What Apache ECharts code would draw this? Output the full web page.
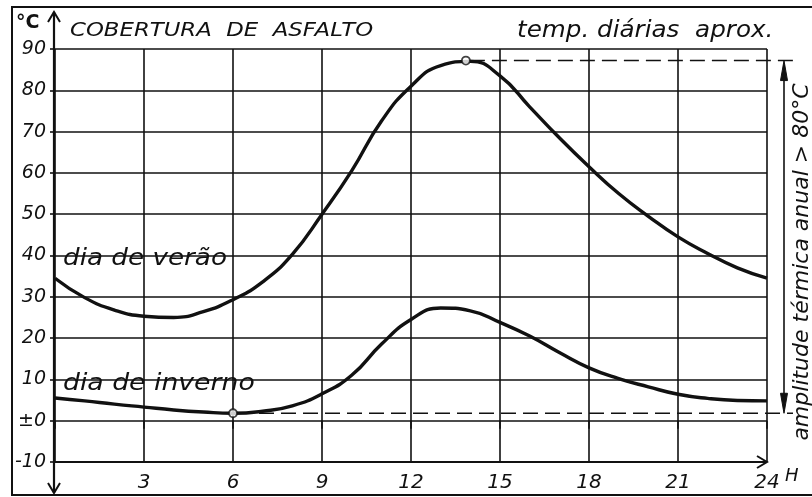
<!DOCTYPE html>
<html>
<head>
<meta charset="utf-8">
<script src="https://cdn.jsdelivr.net/npm/echarts@6/dist/echarts.min.js"></script>
<style>
  html, body { margin: 0; padding: 0; background: #fff; }
  #chart { width: 812px; height: 497px; }
</style>
</head>
<body>
<div id="chart"></div>
<script>
// Daily surface temperature of an asphalt roof covering (approximate values)
const hours = [0, 1, 2, 3, 4, 5, 6, 7, 8, 9, 10, 11, 12, 13, 14, 15, 16, 17, 18, 19, 20, 21, 22, 23, 24];
const summerDay = [34.5, 29.8, 26.8, 25.3, 25, 26.4, 29.3, 33.6, 40.3, 50, 60.5, 72.5, 81, 86, 87, 83.5, 76, 68.5, 61.5, 55, 49.5, 44.5, 40.5, 37, 34.5];
const winterDay = [5.5, 4.8, 4, 3.3, 2.6, 2.1, 1.8, 2.3, 3.6, 6.5, 11, 18.5, 24.5, 27.3, 26.6, 23.8, 20.5, 16.5, 12.8, 10.2, 8.2, 6.4, 5.4, 4.9, 4.8];
const summerPeak = [13.85, 87.2];
const winterLow = [6, 1.8];
const xTicks = [0, 3, 6, 9, 12, 15, 18, 21, 24];
const yTicks = [-10, 0, 10, 20, 30, 40, 50, 60, 70, 80, 90];

const INK = '#111';
const FONT = 'DejaVu Sans';

const chart = echarts.init(document.getElementById('chart'), null, { renderer: 'canvas' });

function pairs(xs, ys) { return xs.map((x, i) => [x, ys[i]]); }

chart.setOption({
  backgroundColor: '#fff',
  animation: false,
  grid: { left: 55, right: 45, top: 49, bottom: 35 },
  xAxis: {
    type: 'value', min: xTicks[0], max: xTicks[xTicks.length - 1], interval: 3,
    axisLine: { show: false },
    axisTick: { show: true, length: 8, lineStyle: { color: INK, width: 1.6 } },
    splitLine: { show: true, lineStyle: { color: INK, width: 1.6 } },
    axisLabel: {
      margin: 11, color: INK, fontFamily: FONT, fontStyle: 'italic', fontSize: 20,
      formatter: v => (v === 0 ? '' : String(v))
    }
  },
  yAxis: {
    type: 'value', min: yTicks[0], max: yTicks[yTicks.length - 1], interval: 10,
    axisLine: { show: false },
    axisTick: { show: true, length: 5, lineStyle: { color: INK, width: 1.6 } },
    splitLine: { show: true, lineStyle: { color: INK, width: 1.6 } },
    axisLabel: {
      margin: 9, color: INK, fontFamily: FONT, fontStyle: 'italic', fontSize: 19,
      formatter: v => (v === 0 ? '±0' : String(v))
    }
  },
  series: [
    {
      name: 'dia de verão', type: 'line', data: pairs(hours, summerDay),
      smooth: 0.5, showSymbol: false, lineStyle: { color: INK, width: 3.4 }, z: 5
    },
    {
      name: 'dia de inverno', type: 'line', data: pairs(hours, winterDay),
      smooth: 0.5, showSymbol: false, lineStyle: { color: INK, width: 3.4 }, z: 5
    },
    {
      type: 'scatter', data: [summerPeak, winterLow], symbol: 'circle', symbolSize: 8,
      itemStyle: { color: '#fff', borderColor: INK, borderWidth: 1.8 }, z: 10
    }
  ]
});

// Annotation layer placed through the axis scales
const px = (x, y) => chart.convertToPixel({ gridIndex: 0 }, [x, y]);
const p0 = px(0, -10), p24 = px(24, -10);
const peak = px(summerPeak[0], summerPeak[1]);
const low = px(winterLow[0], winterLow[1]);
const arrowX = p24[0] + 17;
const dashEnd = p24[0] + 26;

const line = (x1, y1, x2, y2, w, dash) => ({
  type: 'line', shape: { x1, y1, x2, y2 },
  style: { stroke: INK, lineWidth: w, lineDash: dash || null }, z: 20
});
const poly = (points, w) => ({
  type: 'polyline', shape: { points }, style: { stroke: INK, lineWidth: w, fill: null }, z: 20
});
const tri = (points) => ({
  type: 'polygon', shape: { points }, style: { fill: INK, stroke: INK, lineWidth: 1 }, z: 20
});
// lettering is drawn slightly stretched horizontally, like wide hand lettering
const text = (x, y, t, size, sx, extra) => ({
  type: 'text', x, y, z: 20, scaleX: sx || 1,
  style: Object.assign({ text: t, fill: INK, font: 'italic ' + size + 'px "' + FONT + '"', textVerticalAlign: 'middle' }, extra || {})
});

const yAxisX = p0[0] - 1;
const elements = [
  // outer frame
  { type: 'rect', shape: { x: 12, y: 7, width: 830, height: 488 }, style: { stroke: INK, lineWidth: 2, fill: null }, z: 1 },
  // vertical axis with open arrowheads at both ends
  line(yAxisX, 12, yAxisX, 493, 2.2),
  poly([[yAxisX - 6, 22], [yAxisX, 12], [yAxisX + 6, 22]], 2),
  poly([[yAxisX - 6, 483], [yAxisX, 493], [yAxisX + 6, 483]], 2),
  // horizontal axis on the -10 line with arrowhead at 24 h
  line(p0[0], p0[1], p24[0], p24[1], 2.2),
  poly([[p24[0] - 10, p24[1] - 6], [p24[0], p24[1]], [p24[0] - 10, p24[1] + 6]], 2),
  // reference dashes at the extreme temperatures
  line(peak[0] + 4, peak[1], dashEnd, peak[1], 1.6, [15, 7]),
  line(low[0] + 4, low[1], dashEnd, low[1], 1.6, [15, 7]),
  // annual thermal range arrow
  line(arrowX, peak[1] + 4, arrowX, low[1] - 4, 1.6),
  tri([[arrowX, peak[1]], [arrowX - 3.5, peak[1] + 20], [arrowX + 3.5, peak[1] + 20]]),
  tri([[arrowX, low[1]], [arrowX - 3.5, low[1] - 20], [arrowX + 3.5, low[1] - 20]]),
  // titles and labels
  text(16, 23, '°C', 19, 1, { font: 'bold 19px "' + FONT + '"' }),
  text(70, 31, 'COBERTURA  DE  ASFALTO', 19, 1.2),
  text(517, 31, 'temp. diárias  aprox.', 23, 1.07),
  text(63, 259, 'dia de verão', 23, 1.14),
  text(63, 384, 'dia de inverno', 23, 1.16),
  text(p24[0] + 18, 476, 'H', 18),
  {
    type: 'text', x: 802, y: 262, rotation: Math.PI / 2, z: 20,
    style: {
      text: 'amplitude térmica anual > 80°C', fill: INK,
      font: 'italic 22px "' + FONT + '"', textAlign: 'center', textVerticalAlign: 'middle'
    }
  }
];
chart.setOption({ graphic: { elements } });
</script>
</body>
</html>
